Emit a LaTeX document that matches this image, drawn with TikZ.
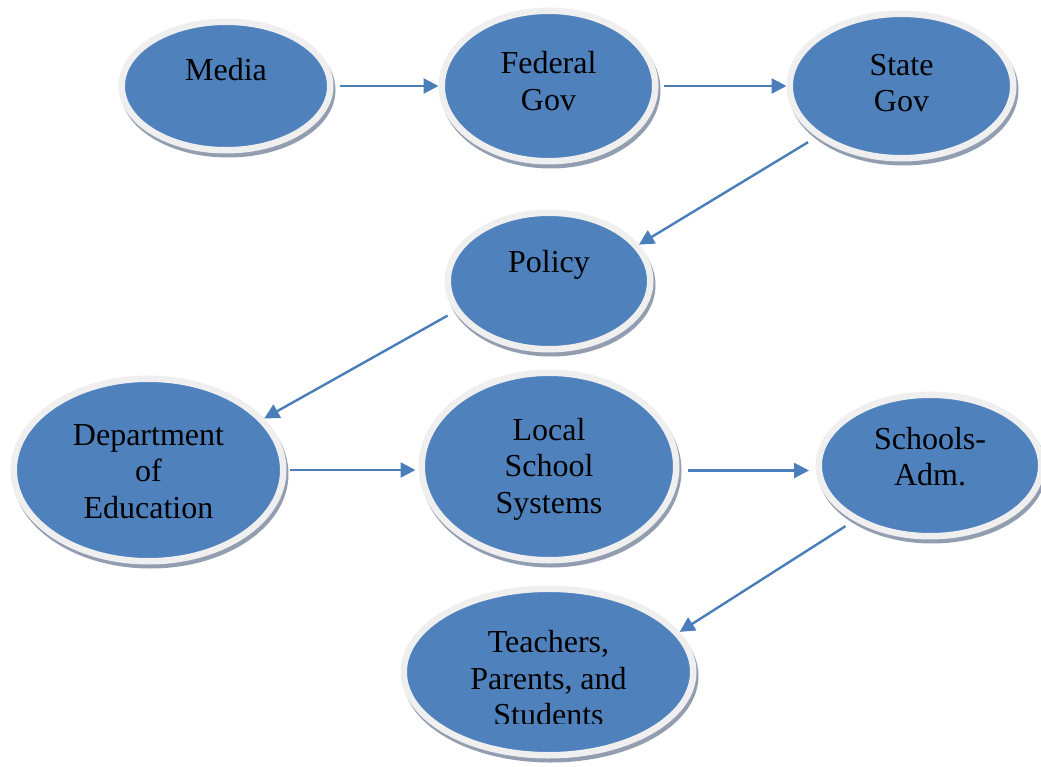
\documentclass[tikz,border=0pt]{standalone}
\usepackage{fontspec}
\setmainfont{Liberation Serif}
\usepackage{xcolor}
\usetikzlibrary{arrows.meta,shapes.geometric,shadows}

\definecolor{bubblefill}{HTML}{4F81BD}
\definecolor{bubblering}{HTML}{EFEFEF}
\definecolor{bubbleshade}{HTML}{939DB0}
\definecolor{linkblue}{HTML}{4A7EBB}

\tikzset{
  bubble/.style={ellipse, fill=bubblefill, draw=bubblering, line width=6.5pt, inner sep=0pt,
    general shadow={draw=bubbleshade, fill=bubbleshade, line width=6.5pt, shadow xshift=2pt, shadow yshift=-4pt}},
  txt/.style={font=\fontsize{32}{36.5}\selectfont, align=center, inner sep=0pt},
  link/.style={->, >={Triangle[length=15pt,width=15pt]}, draw=linkblue, line width=2.4pt}
}

\begin{document}
\begin{tikzpicture}[x=1pt,y=-1pt]
  \useasboundingbox (0,0) rectangle (1041,767);
  \foreach \n/\x/\y/\w/\h in {media/226/86/208.5/128.5, federal/548.5/86/213.5/150.5,
      state/901.5/86/223.5/144.5, policy/549/281/202.5/136.5, dept/148.5/470/269.5/182.5,
      local/549/466.5/254.5/187.5, schools/930/465.5/222.5/141.5, teach/548.5/672/289.5/166.5} {
    \node[bubble, minimum width=\w, minimum height=\h] (\n) at (\x,\y) {};
  }
  \node[txt] (media-t) at (226,70) {Media};
  \node[txt] (federal-t) at (548.5,81) {Federal\\Gov};
  \node[txt] (state-t) at (901.5,83) {State\\Gov};
  \node[txt] (policy-t) at (549,265) {Policy};
  \node[txt] (dept-t) at (148.5,471.5) {Department\\of\\Education};
  \node[txt] (local-t) at (549,469) {Local\\School\\Systems};
  \node[txt] (schools-t) at (930,456.5) {Schools-\\Adm.};
  \begin{scope}
    \clip (0,0) rectangle (1041,723);
    \node[txt] (teach-t) at (548.5,678.5) {Teachers,\\Parents, and\\Students};
  \end{scope}

  \draw[link, shorten <=6pt] (media.east) -- (federal.west);
  \draw[link, shorten <=5pt] (federal.east) -- (state.west);
  \draw[link, shorten <=10pt] (state.211) -- (policy.22);
  \draw[link, shorten <=8pt] (policy.198) -- (dept.24);
  \draw[link, shorten <=3pt, shorten >=3pt] (dept.east) -- (dept.east -| local.west);
  \draw[link, shorten <=8pt, shorten >=6.5pt] ([yshift=-4pt]local.east) -- ([yshift=-4pt]local.east -| schools.west);
  \draw[link, shorten <=10pt] (schools.216) -- (teach.17);
\end{tikzpicture}
\end{document}
